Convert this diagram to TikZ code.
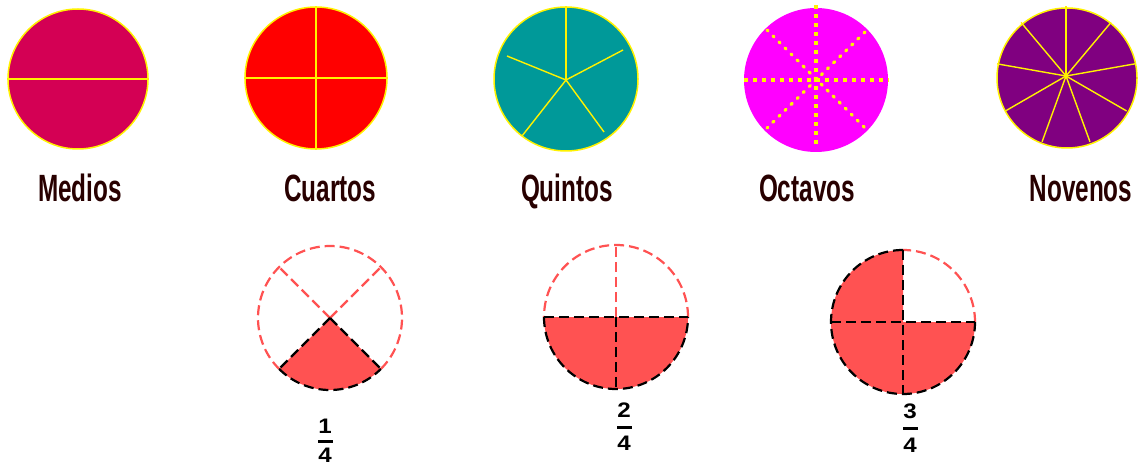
\documentclass[tikz,border=0pt]{standalone}
\usepackage{fontspec}
\newfontfamily\labfont[FakeStretch=0.64]{Liberation Sans}
\newfontfamily\fracfont[FakeStretch=1.15]{Liberation Sans}
\definecolor{medios}{RGB}{212,0,84}
\definecolor{teal2}{RGB}{0,153,153}
\definecolor{purp}{RGB}{128,0,128}
\definecolor{magen}{RGB}{255,0,255}
\definecolor{fracred}{RGB}{255,82,82}
\definecolor{labcol}{RGB}{40,0,0}
\begin{document}
\begin{tikzpicture}[x=1pt,y=1pt,
  disk/.style={circle, inner sep=0pt, draw=yellow, line width=1.5pt},
  yl/.style={draw=yellow, line width=1.4pt},
  octd/.style={draw=yellow, line width=4pt, dash pattern=on 4pt off 5pt},
  lab/.style={font=\labfont\bfseries\fontsize{38}{40}\selectfont, text=labcol, anchor=base, inner sep=0pt},
  fr/.style={font=\fracfont\bfseries\fontsize{21}{23}\selectfont, inner sep=0pt},
  bar/.style={fill=black, minimum width=15pt, minimum height=3pt, inner sep=0pt},
  rd/.style={draw=fracred, line width=2.2pt, dash pattern=on 10pt off 5pt},
  bk/.style={draw=black, line width=2.2pt, dash pattern=on 10pt off 5pt}]
\useasboundingbox (0,0) rectangle (1139,466);

% ---- top row ----
\node[disk, fill=medios, minimum size=140pt] (m) at (78,387) {};
\draw[yl] (m.west) -- (m.east);

\node[disk, fill=red, minimum size=142pt] (c) at (316,388) {};
\draw[yl] (c.west) -- (c.east);
\draw[yl] (c.north) -- (c.south);

\node[disk, fill=teal2, minimum size=144pt] (q) at (566,387) {};
\coordinate (qc) at (566,386);
\draw[yl] (qc) -- (q.north);
\draw[yl] (qc) -- (623,416);
\draw[yl] (qc) -- (507,410);
\draw[yl] (qc) -- (522,330);
\draw[yl] (qc) -- (604,334);

\node[circle, inner sep=0pt, fill=magen, minimum size=144pt] (o) at (816,386) {};
\coordinate (ot) at (816,461);
\coordinate (ob) at (816,319);
\draw[octd] (ot) -- (ob);
\draw[octd] (o.west) -- (o.east);
\coordinate (od1) at (767,436);
\coordinate (od2) at (865,338);
\coordinate (od3) at (865,434);
\coordinate (od4) at (767,338);
\draw[octd, line width=3.2pt, line cap=round, dash pattern=on 1.5pt off 7pt] (od1) -- (od2);
\draw[octd, line width=3.2pt, line cap=round, dash pattern=on 1.5pt off 7pt] (od3) -- (od4);

\node[disk, fill=purp, minimum size=140pt] (n) at (1067,388) {};
\coordinate (nc) at (1066,390);
\foreach \a in {90,50,10,-30,-70,-110,-150,170,130}
  \draw[yl] (nc) -- ++(\a:70);

\node[lab] (lm) at (80,264) {Medios};
\node[lab] (lc) at (330,264) {Cuartos};
\node[lab] (lq) at (567,264) {Quintos};
\node[lab] (lo) at (807,264) {Octavos};
\node[lab] (ln) at (1081,264) {Novenos};

% ---- bottom row ----
% 1/4
\coordinate (a) at (330,148);
\fill[fracred] (a) -- ++(225:72) arc[start angle=225, end angle=315, radius=72] -- cycle;
\draw[rd] (a) ++(315:72) arc[start angle=315, end angle=585, radius=72];
\draw[rd] (a) -- ++(45:72);
\draw[rd] (a) -- ++(135:72);
\draw[bk] (a) ++(225:72) arc[start angle=225, end angle=315, radius=72];
\draw[bk] (a) -- ++(225:72);
\draw[bk] (a) -- ++(315:72);

% 2/4
\coordinate (b) at (616,149);
\fill[fracred] (b) ++(180:72) arc[start angle=180, end angle=360, radius=72] -- cycle;
\draw[rd] (b) ++(0:72) arc[start angle=0, end angle=180, radius=72];
\draw[rd] (b) -- ++(90:72);
\draw[bk] (b) ++(180:72) arc[start angle=180, end angle=360, radius=72];
\draw[bk] (b) ++(180:72) -- ++(144,0);
\draw[bk] (b) -- ++(270:72);

% 3/4
\coordinate (t) at (903,144);
\fill[fracred] (t) -- ++(90:72) arc[start angle=90, end angle=360, radius=72] -- cycle;
\draw[rd] (t) ++(0:72) arc[start angle=0, end angle=90, radius=72];
\draw[bk] (t) ++(90:72) arc[start angle=90, end angle=360, radius=72];
\draw[bk] (t) ++(180:72) -- ++(144,0);
\draw[bk] (t) ++(90:72) -- ++(0,-144);

% fractions
\node[fr] (n1) at (325,39.5) {1};
\node[bar] (b1) at (325,25) {};
\node[fr] (d1) at (325,10.5) {4};

\node[fr] (n2) at (624,56) {2};
\node[bar] (b2) at (624,38.5) {};
\node[fr] (d2) at (624,23) {4};

\node[fr] (n3) at (910,54.5) {3};
\node[bar] (b3) at (910,38) {};
\node[fr] (d3) at (910,20.5) {4};
\end{tikzpicture}
\end{document}
